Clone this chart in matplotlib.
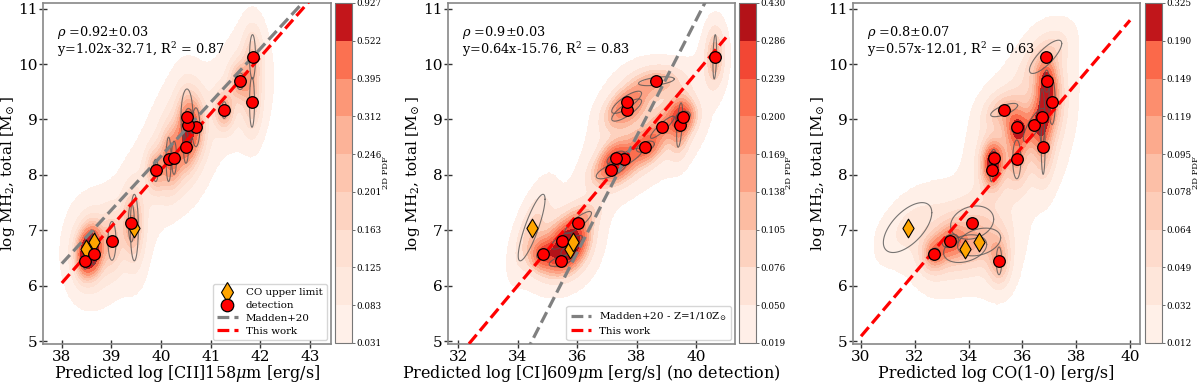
import numpy as np
import matplotlib.pyplot as plt
from matplotlib.lines import Line2D

plt.rcParams['font.family'] = 'DejaVu Serif'
plt.rcParams['mathtext.fontset'] = 'dejavuserif'

# %% Data
# log MH2 of the 15 detections and the 3 CO upper limits (same in all panels)
det_y = [6.45, 6.58, 6.81, 7.14, 8.08, 8.28, 8.31, 8.51, 8.86, 8.90, 9.05, 9.17, 9.31, 9.69, 10.13]
ul_y = [6.67, 6.79, 7.05]

# panel 1 : [CII]158um
cii_det_x = [38.47, 38.64, 39.01, 39.40, 39.89, 40.15, 40.26, 40.50, 40.70, 40.55, 40.52, 41.27, 41.83, 41.59, 41.84]
cii_ul_x = [38.49, 38.64, 39.46]
# 1-sigma errors (x, y) and correlation, detections then upper limits
cii_ex = [0.05, 0.05, 0.08, 0.06, 0.05, 0.05, 0.05, 0.05, 0.08, 0.10, 0.12, 0.05, 0.05, 0.08, 0.06, 0.05, 0.05, 0.08]
cii_ey = [0.15, 0.20, 0.35, 0.35, 0.20, 0.40, 0.30, 0.30, 0.35, 0.30, 0.50, 0.15, 0.45, 0.15, 0.40, 0.15, 0.20, 0.60]
cii_rho = [0.0] * 18
cii_levels = [0.031, 0.083, 0.125, 0.163, 0.201, 0.246, 0.312, 0.395, 0.522, 0.927]
cii_fit = (1.02, -32.71)
cii_madden = (0.97, -30.46)

# panel 2 : [CI]609um
ci_det_x = [35.46, 34.84, 35.48, 36.03, 37.14, 37.58, 37.30, 38.29, 38.86, 39.44, 39.55, 37.66, 37.66, 38.66, 40.62]
ci_ul_x = [35.75, 35.87, 34.47]
ci_ex = [0.40, 0.20, 0.35, 0.45, 0.50, 0.60, 0.30, 0.30, 0.40, 0.10, 0.25, 0.50, 0.50, 0.60, 0.06, 0.30, 0.30, 0.45]
ci_ey = [0.10, 0.08, 0.15, 0.20, 0.15, 0.20, 0.12, 0.10, 0.20, 0.40, 0.10, 0.20, 0.20, 0.08, 0.40, 0.12, 0.12, 0.60]
ci_rho = [0.6, 0.5, 0.7, 0.85, 0.7, 0.8, 0.6, 0.5, 0.9, 0.5, 0.3, 0.8, 0.8, 0.5, 0.3, 0.7, 0.7, 0.85]
ci_levels = [0.019, 0.050, 0.076, 0.105, 0.138, 0.169, 0.200, 0.239, 0.286, 0.430]
ci_fit = (0.64, -15.76)
ci_madden = (1.05, -31.2)

# panel 3 : CO(1-0)
co_det_x = [35.13, 32.70, 33.32, 34.13, 34.85, 35.79, 34.93, 36.77, 35.79, 36.43, 36.73, 35.32, 37.10, 36.90, 36.86]
co_ul_x = [33.87, 34.39, 31.73]
co_ex = [0.10, 0.20, 0.30, 0.80, 0.07, 0.15, 0.10, 0.07, 0.20, 0.40, 0.10, 0.50, 0.12, 0.10, 0.60, 0.80, 0.80, 0.90]
co_ey = [0.25, 0.10, 0.12, 0.30, 0.20, 0.35, 0.15, 0.50, 0.10, 0.30, 0.50, 0.12, 0.40, 0.20, 0.30, 0.25, 0.25, 0.45]
co_rho = [0.0, 0.3, 0.3, 0.2, 0.0, 0.0, 0.0, 0.0, 0.3, 0.8, 0.0, 0.7, 0.0, 0.0, 0.8, 0.3, 0.3, 0.6]
co_levels = [0.012, 0.032, 0.049, 0.064, 0.078, 0.095, 0.119, 0.149, 0.190, 0.325]
co_fit = (0.57, -12.01)


def gauss2d(X, Y, x0, y0, sx2, sy2, sxy):
    det = sx2 * sy2 - sxy**2
    dx = X - x0; dy = Y - y0
    q = (sy2 * dx**2 - 2 * sxy * dx * dy + sx2 * dy**2) / det
    return np.exp(-0.5 * q) / (2 * np.pi * np.sqrt(det))


def draw_panel(ax, cax, det_x, ul_x, ex, ey, rho, levels, fit, fit_range,
               xlim, xticks, xlabel, stats, bw, madden=None, madden_label=None,
               show_ul_legend=False, show_legend=True):
    px = np.array(list(det_x) + list(ul_x))
    py = np.array(det_y + ul_y)
    ex = np.array(ex); ey = np.array(ey); rho = np.array(rho)

    # density: a narrow and a broad gaussian per source
    gx = np.linspace(xlim[0], xlim[1], 300)
    gy = np.linspace(4.95, 11.1, 300)
    X, Y = np.meshgrid(gx, gy)
    dens = np.zeros_like(X)
    for i in range(len(px)):
        cxx = (0.8 * ex[i])**2
        cyy = (0.8 * ey[i])**2
        cxy = rho[i] * 0.64 * ex[i] * ey[i]
        dens += 0.55 * gauss2d(X, Y, px[i], py[i], cxx + bw[0]**2, cyy + bw[1]**2, cxy)
        dens += 0.45 * gauss2d(X, Y, px[i], py[i], 2 * cxx + (2.6 * bw[0])**2,
                               2 * cyy + (2.6 * bw[1])**2, 2 * cxy)

    # iso-proportion thresholds (as seaborn does), mapped onto the published levels
    srt = np.sort(dens.ravel())
    cum = np.cumsum(srt) / srt.sum()
    props = np.linspace(0.05, 1.0, len(levels))
    thr = np.interp(props, cum, srt)
    thr[-1] = srt[-1]
    mapped = np.interp(dens, thr, levels)
    mapped[dens < thr[0]] = 0

    cf = ax.contourf(X, Y, mapped, levels=levels, cmap='Reds', zorder=1)

    # error contours
    t = np.linspace(0, 2 * np.pi, 100)
    for i in range(len(px)):
        cov = np.array([[ex[i]**2, rho[i] * ex[i] * ey[i]],
                        [rho[i] * ex[i] * ey[i], ey[i]**2]])
        L = np.linalg.cholesky(cov + 1e-9 * np.eye(2))
        pts = L @ np.vstack([np.cos(t), np.sin(t)])
        ax.plot(px[i] + pts[0], py[i] + pts[1], color='#555555', lw=0.8, alpha=0.8, zorder=2)

    xx = np.array(fit_range)
    if madden is not None:
        ax.plot(xx, madden[0] * xx + madden[1], ls='--', color='grey', lw=2.3, zorder=3)
    ax.plot(xx, fit[0] * xx + fit[1], ls='--', color='red', lw=2.3, zorder=3)

    ax.scatter(ul_x, ul_y, marker='d', s=90, c='orange', edgecolors='black', linewidths=0.8, zorder=4)
    ax.scatter(det_x, det_y, marker='o', s=70, c='red', edgecolors='black', linewidths=0.9, zorder=5)

    ax.set_xlim(xlim)
    ax.set_ylim(4.95, 11.1)
    ax.set_xticks(xticks)
    ax.set_yticks([5, 6, 7, 8, 9, 10, 11])
    ax.tick_params(direction='inout', length=6, width=1, labelsize=11, color='#333333', pad=1)
    for s in ax.spines.values():
        s.set_color('#888888')
        s.set_linewidth(1.2)
    ax.set_xlabel(xlabel, fontsize=11.5, va='center')
    ax.xaxis.set_label_coords(0.5, -0.087)
    ax.set_ylabel(r'log $\mathrm{MH}_2$, total [M$_{\!\odot}$]', fontsize=11)
    ax.yaxis.set_label_coords(-0.09, 0.5)
    ax.text(0.05, 0.915, stats[0], transform=ax.transAxes, fontsize=9.3, va='center')
    ax.text(0.05, 0.865, stats[1], transform=ax.transAxes, fontsize=9.3, va='center')

    if show_legend:
        handles = []
        if show_ul_legend:
            handles.append(Line2D([], [], ls='none', marker='d', ms=10, mfc='orange', mec='black', mew=0.8,
                                  label='CO upper limit'))
            handles.append(Line2D([], [], ls='none', marker='o', ms=9, mfc='red', mec='black', mew=0.9,
                                  label='detection'))
        handles.append(Line2D([], [], ls='--', color='grey', lw=2.3, label=madden_label))
        handles.append(Line2D([], [], ls='--', color='red', lw=2.3, label='This work'))
        ax.legend(handles=handles, loc='lower right', fontsize=7.4, handlelength=2.0,
                  borderaxespad=0.4, labelspacing=0.35, handletextpad=0.8)

    cb = plt.colorbar(cf, cax=cax, ticks=levels, format='%.3f')
    cb.ax.tick_params(labelsize=6.3, length=2, width=0.6, color='#555555', pad=1)
    cb.outline.set_edgecolor('#777777')
    cb.set_label('2D PDF', fontsize=6, labelpad=0)


fig = plt.figure(figsize=(12, 3.82), dpi=100)
ax1 = fig.add_axes([0.0358, 0.0995, 0.240, 0.8925])
cax1 = fig.add_axes([0.2792, 0.1021, 0.0142, 0.8901])
ax2 = fig.add_axes([0.3733, 0.0995, 0.2392, 0.8925])
cax2 = fig.add_axes([0.6158, 0.1021, 0.0142, 0.8901])
ax3 = fig.add_axes([0.7108, 0.0995, 0.2392, 0.8925])
cax3 = fig.add_axes([0.9542, 0.1021, 0.0142, 0.8901])

draw_panel(ax1, cax1, cii_det_x, cii_ul_x, cii_ex, cii_ey, cii_rho, cii_levels, cii_fit, (38, 43),
           (37.62, 43.42), [38, 39, 40, 41, 42, 43], r'Predicted log [CII]158$\mu$m [erg/s]',
           [r'$\rho$ =0.92$\pm$0.03', r'y=1.02x-32.71, R$^2$ = 0.87'], bw=(0.12, 0.2),
           madden=cii_madden, madden_label='Madden+20', show_ul_legend=True)

draw_panel(ax2, cax2, ci_det_x, ci_ul_x, ci_ex, ci_ey, ci_rho, ci_levels, ci_fit, (32, 41),
           (31.66, 41.3), [32, 34, 36, 38, 40], r'Predicted log [CI]609$\mu$m [erg/s] (no detection)',
           [r'$\rho$ =0.9$\pm$0.03', r'y=0.64x-15.76, R$^2$ = 0.83'], bw=(0.2, 0.16),
           madden=ci_madden, madden_label=r'Madden+20 - Z=1/10Z$_{\!\odot}$')

draw_panel(ax3, cax3, co_det_x, co_ul_x, co_ex, co_ey, co_rho, co_levels, co_fit, (30, 40),
           (29.7, 40.37), [30, 32, 34, 36, 38, 40], 'Predicted log CO(1-0) [erg/s]',
           [r'$\rho$ =0.8$\pm$0.07', r'y=0.57x-12.01, R$^2$ = 0.63'], bw=(0.25, 0.2),
           show_legend=False)

fig.savefig('out.png', dpi=100)
